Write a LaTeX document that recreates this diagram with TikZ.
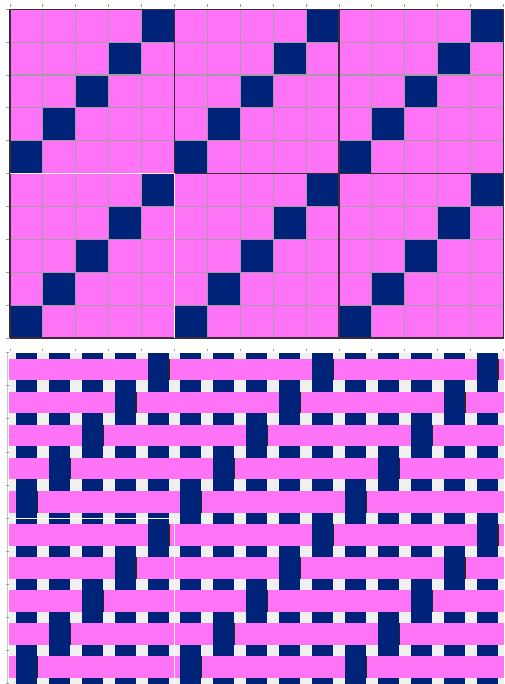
\documentclass[tikz,border=0pt]{standalone}
\definecolor{pk}{HTML}{FF73F7}
\definecolor{nv}{HTML}{00237A}
\definecolor{gridc}{HTML}{A89AA8}
\definecolor{blockc}{HTML}{3A2A3A}
\definecolor{gapc}{HTML}{F0F0F0}
\definecolor{tickc}{HTML}{9A9A9A}
\tikzset{
  gridline/.style={draw=gridc, line width=1.1pt},
  blockline/.style={draw=blockc, line width=1.3pt},
  tickmark/.style={draw=tickc, line width=0.9pt},
  artifact/.style={draw=white!92!pk, line width=1.1pt},
  shadowline/.style={draw=black!85, line width=1.2pt}
}
\begin{document}
\begin{tikzpicture}[x=1pt,y=-1pt]
\useasboundingbox (0,0) rectangle (504,684);
\fill[white] (0,0) rectangle (504,684);
% ---------------- top draft grid ----------------
\fill[pk] (10,9.3) rectangle (503.5,338);
\foreach \r in {0,...,9}{
  \foreach \c in {0,...,14}{
    \pgfmathtruncatemacro\s{mod(\r,5)+mod(\c,5)}
    \ifnum\s=4
      \fill[nv] ({10+\c*32.9},{9.3+\r*32.87}) rectangle ++(32.9,32.87);
    \fi
  }
}
\foreach \c in {1,2,3,4,6,7,8,9,11,12,13,14}
  \draw[gridline] ({10+\c*32.9},9.3) -- ++(0,328.7);
\foreach \r in {1,2,3,4,6,7,8,9}
  \draw[gridline] (10,{9.3+\r*32.87}) -- (503.5,{9.3+\r*32.87});
\foreach \c in {0,5,10,15}
  \draw[blockline] ({10+\c*32.9},9.3) -- ++(0,328.7);
\foreach \r in {0,5,10}
  \draw[blockline] (10,{9.3+\r*32.87}) -- (503.5,{9.3+\r*32.87});
\draw[artifact] (10,173.65) -- (174.5,173.65) -- (174.5,338);
% ticks
\foreach \r in {0,...,10}
  \draw[tickmark] (6,{9.3+\r*32.87}) -- (8.5,{9.3+\r*32.87});
\foreach \c in {0,...,15}
  \draw[tickmark] ({10+\c*32.9},4.5) -- ({10+\c*32.9},7);
% ---------------- bottom weave simulation ----------------
\fill[gapc] (9.3,352.7) rectangle (504,684);
\foreach \c in {0,...,14}
  \fill[nv] ({10+(\c+0.5)*32.9-10.5},352.7) rectangle ({10+(\c+0.5)*32.9+10.5},684);
\foreach \r in {0,...,9}
  \fill[pk] (9.3,{358.5+\r*33.1}) rectangle (504,{380.1+\r*33.1});
\foreach \r in {0,...,9}{
  \foreach \c in {0,...,14}{
    \pgfmathtruncatemacro\s{mod(\r,5)+mod(\c,5)}
    \ifnum\s=4
      \fill[nv] ({10+(\c+0.5)*32.9-10.5},{358.5+\r*33.1-1}) rectangle ({10+(\c+0.5)*32.9+10.5},{380.1+\r*33.1+1});
      \draw[shadowline] ({10+(\c+0.5)*32.9+10.9},{358.5+\r*33.1}) -- ({10+(\c+0.5)*32.9+10.9},{380.1+\r*33.1});
    \fi
  }
}
\draw[artifact] (10,518.3) -- (174.5,518.3) -- (174.5,684);
\draw[draw=gridc!60, line width=0.6pt] (7.5,352.7) -- (7.5,684);
\foreach \r in {0,...,10}
  \draw[tickmark] (5.5,{352.7+\r*33.1}) -- (8.5,{352.7+\r*33.1});
\foreach \c in {0,...,15}
  \draw[tickmark] ({10+\c*32.9},348.5) -- ({10+\c*32.9},351);
\end{tikzpicture}
\end{document}
